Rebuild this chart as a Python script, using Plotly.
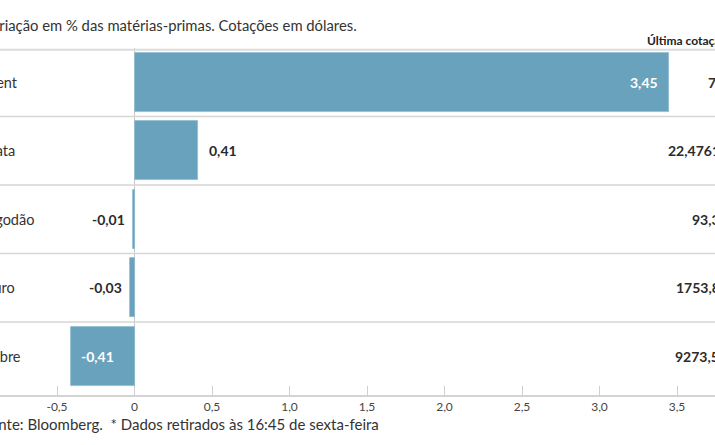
import plotly.graph_objects as go

# ---- data ----
categories = ["Brent", "Prata", "Algodão", "Ouro", "Cobre"]
variation = [3.45, 0.41, -0.01, -0.03, -0.41]
variation_labels = ["3,45", "0,41", "-0,01", "-0,03", "-0,41"]
label_inside = [True, False, False, False, True]
last_price = ["75,34", "22,4761", "93,31", "1753,81", "9273,50"]
tick_vals = [-0.5, 0, 0.5, 1.0, 1.5, 2.0, 2.5, 3.0, 3.5]
tick_text = ["-0,5", "0", "0,5", "1,0", "1,5", "2,0", "2,5", "3,0", "3,5"]

title_text = "Variação em % das matérias-primas. Cotações em dólares."
header_text = "Última cotação*"
footer_text = "Fonte: Bloomberg.\u00a0 * Dados retirados às 16:45 de sexta-feira"

# ---- layout constants ----
W, H = 715, 445
MT, MB = 48, 50
PLOT_H = H - MT - MB
PX_PER_UNIT = 155.0
X0_PX = 134.5
x_range = [-X0_PX / PX_PER_UNIT, (W - X0_PX) / PX_PER_UNIT]
y_range = [4.565, -0.5]
price_x_px = [706, 666, 690, 674, 673]

FONT = "Lato"
BAR_COLOR = "#68a2bd"
TEXT_COLOR = "#2b2b2b"
LINE_COLOR = "#d6d6d6"


def px_x(p):
    return p / W


def px_y(p):
    return (H - MB - p) / PLOT_H


idx = list(range(len(categories)))

fig = go.Figure()
fig.add_trace(go.Bar(
    x=variation, y=idx, orientation="h", width=0.86,
    marker=dict(color=BAR_COLOR, line=dict(color="#8ebbd0", width=0.8)),
    hoverinfo="skip",
))

annotations = []
annotations.append(dict(text=title_text, xref="paper", yref="paper",
                        x=px_x(-19), y=px_y(25), xanchor="left", yanchor="middle",
                        showarrow=False, font=dict(family=FONT, size=14.8, color="#333")))
annotations.append(dict(text="<b>" + header_text + "</b>", xref="paper", yref="paper",
                        x=px_x(645), y=px_y(40), xanchor="left", yanchor="middle",
                        showarrow=False, font=dict(family=FONT, size=12, color="#222")))
annotations.append(dict(text=footer_text, xref="paper", yref="paper",
                        x=px_x(-20), y=px_y(424), xanchor="left", yanchor="middle",
                        showarrow=False, font=dict(family=FONT, size=15, color="#333")))

for i, (cat, v, lab, inside, price) in enumerate(zip(categories, variation, variation_labels,
                                                     label_inside, last_price)):
    annotations.append(dict(text=cat, xref="paper", yref="y", x=px_x(-20), y=i,
                            xanchor="left", yanchor="middle", showarrow=False,
                            font=dict(family=FONT, size=14.5, color="#333")))
    if inside:
        anchor = "right" if v > 0 else "left"
        shift = -9 if v > 0 else 8
        color = "white"
    else:
        anchor = "left" if v > 0 else "right"
        shift = 9 if v > 0 else -6
        color = TEXT_COLOR
    annotations.append(dict(text="<b>" + lab + "</b>", xref="x", yref="y", x=v, y=i,
                            xanchor=anchor, xshift=shift, yanchor="middle", showarrow=False,
                            font=dict(family=FONT, size=14, color=color)))
    annotations.append(dict(text="<b>" + price + "</b>", xref="paper", yref="y",
                            x=px_x(price_x_px[i]), y=i, xanchor="left", yanchor="middle",
                            showarrow=False, font=dict(family=FONT, size=14, color=TEXT_COLOR)))

shapes = []
for b in [0.5, 1.5, 2.5, 3.5]:
    shapes.append(dict(type="line", xref="paper", yref="y", x0=0, x1=1, y0=b, y1=b,
                       line=dict(color=LINE_COLOR, width=1.5)))
shapes.append(dict(type="line", xref="paper", yref="y", x0=0, x1=1, y0=-0.475, y1=-0.475,
                   line=dict(color="#dcdcdc", width=2)))

fig.update_layout(
    width=W, height=H,
    margin=dict(l=0, r=0, t=MT, b=MB, pad=0),
    paper_bgcolor="white", plot_bgcolor="white",
    showlegend=False,
    bargap=0,
    annotations=annotations,
    shapes=shapes,
    xaxis=dict(range=x_range, tickvals=tick_vals, ticktext=tick_text,
               ticks="inside", ticklen=9, tickcolor="#cfcfcf", tickwidth=1,
               showline=True, linecolor="#d3d3d3", linewidth=2,
               showgrid=False, zeroline=True, zerolinecolor="#c8c8c8", zerolinewidth=1,
               tickfont=dict(family=FONT, size=12, color="#444"), fixedrange=True),
    yaxis=dict(range=y_range, showticklabels=False, showgrid=False, zeroline=False,
               showline=False, fixedrange=True),
)

fig.write_html("out.html", config={"displayModeBar": False},
               post_script="document.body.style.margin='0';document.body.style.overflow='hidden';")
